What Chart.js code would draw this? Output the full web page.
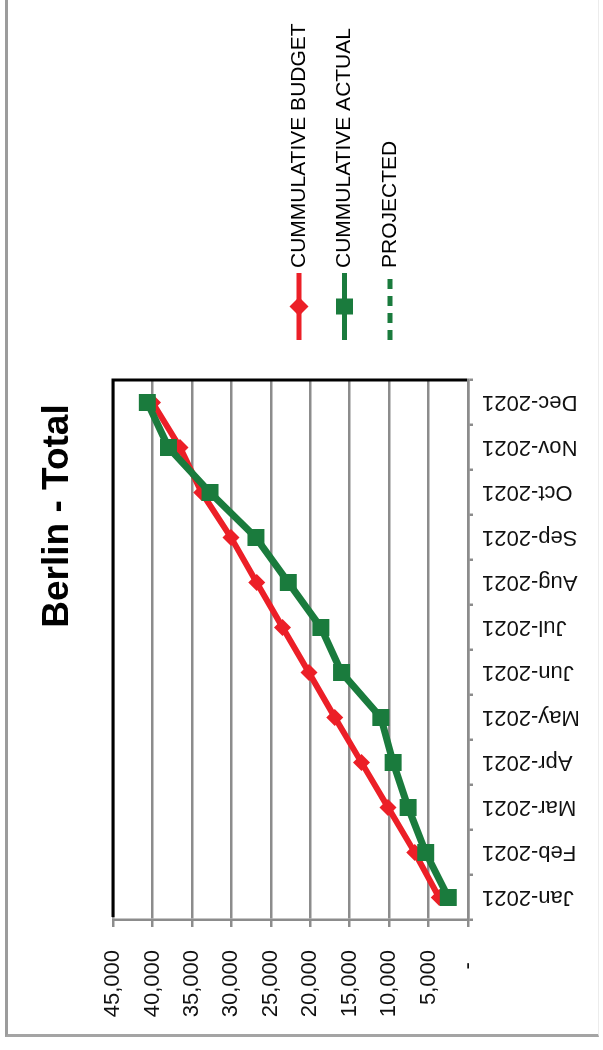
<!DOCTYPE html>
<html>
<head>
<meta charset="utf-8">
<script src="https://cdn.jsdelivr.net/npm/chart.js@4.4.0/dist/chart.umd.min.js"></script>
<style>
  html, body { margin: 0; padding: 0; background: #ffffff; overflow: hidden; }
  body { width: 603px; height: 1050px; position: relative; }
  #wrap {
    position: absolute; left: 0; top: 0;
    width: 1050px; height: 603px;
    transform-origin: 0 0;
    transform: translate(0px, 1050px) rotate(-90deg);
  }
  #frame {
    position: absolute; left: 5px; top: -4px; width: 594px; height: 1041px;
    border-left: 3px solid #9c9c9c; border-bottom: 3px solid #a4a4a4;
    border-right: 1px solid #ececec; border-top: 1px solid #f2f2f2;
    box-sizing: border-box; pointer-events: none;
  }
</style>
</head>
<body>
<div id="wrap"><canvas id="c" width="1050" height="603"></canvas></div>
<div id="frame"></div>
<script>
// ---- data ----
const chartTitle = 'Berlin - Total';
const categories = ['Jan-2021','Feb-2021','Mar-2021','Apr-2021','May-2021','Jun-2021',
                    'Jul-2021','Aug-2021','Sep-2021','Oct-2021','Nov-2021','Dec-2021'];
const seriesNames = ['CUMMULATIVE BUDGET', 'CUMMULATIVE ACTUAL', 'PROJECTED'];
const budgetValues = [3650, 6750, 10130, 13500, 16880, 20170, 23500, 26790, 30040, 33760, 36500, 40000];
const actualValues = [2500, 5360, 7590, 9490, 11050, 16030, 18650, 22780, 26880, 32700, 37970, 40650];
const projectedValues = [];
const valueMin = 0;
const valueMax = 45000;
const valueStep = 5000;

const RED = '#ec1f27';
const GREEN = '#1a7b3d';
const GRID = '#8c8c8c';
const FONT = "'Liberation Sans', Arial, sans-serif";

const decorPlugin = {
  id: 'decor',
  afterDraw(chart) {
    const ctx = chart.ctx;
    const a = chart.chartArea;
    ctx.save();
    // black plot border (top and right)
    ctx.strokeStyle = '#000';
    ctx.lineWidth = 3;
    ctx.beginPath();
    ctx.moveTo(a.left + 3, a.top);
    ctx.lineTo(a.right, a.top);
    ctx.lineTo(a.right, a.bottom - 1);
    ctx.stroke();

    // title
    ctx.fillStyle = '#000';
    ctx.font = "bold 37px " + FONT;
    ctx.textAlign = 'center';
    ctx.textBaseline = 'alphabetic';
    ctx.fillText(chartTitle, 534, 68);

    // legend
    const ds = chart.data.datasets;
    const lx0 = 710, lx1 = 777, mx = 743.5, tx = 782;
    ds.forEach((d, i) => {
      const y = 299 + i * 45.5;
      ctx.strokeStyle = d.borderColor;
      ctx.lineWidth = 5;
      ctx.setLineDash(d.borderDash || []);
      ctx.beginPath();
      ctx.moveTo(lx0, y);
      ctx.lineTo(lx1, y);
      ctx.stroke();
      ctx.setLineDash([]);
      ctx.fillStyle = d.borderColor;
      if (d.pointStyle === 'rectRot' && d.pointRadius > 0) {
        const r = 9.5;
        ctx.beginPath();
        ctx.moveTo(mx - r, y); ctx.lineTo(mx, y - r); ctx.lineTo(mx + r, y); ctx.lineTo(mx, y + r);
        ctx.closePath(); ctx.fill();
      } else if (d.pointStyle === 'rect' && d.pointRadius > 0) {
        ctx.fillRect(mx - 8, y - 8.5, 16, 17);
      }
      ctx.fillStyle = '#000';
      ctx.font = "21px " + FONT;
      ctx.textAlign = 'left';
      ctx.textBaseline = 'middle';
      ctx.fillText(d.label, tx, y);
    });
    ctx.restore();
  }
};

new Chart(document.getElementById('c'), {
  type: 'line',
  data: {
    labels: categories,
    datasets: [
      {
        label: seriesNames[0], data: budgetValues,
        borderColor: RED, backgroundColor: RED, borderWidth: 6,
        pointStyle: 'rectRot', pointRadius: 8.5, pointBorderWidth: 0,
        tension: 0, order: 1
      },
      {
        label: seriesNames[1], data: actualValues,
        borderColor: GREEN, backgroundColor: GREEN, borderWidth: 7,
        pointStyle: 'rect', pointRadius: 12, pointBorderWidth: 0,
        tension: 0, order: 0
      },
      {
        label: seriesNames[2], data: projectedValues,
        borderColor: GREEN, backgroundColor: GREEN, borderWidth: 5,
        borderDash: [10, 7], pointRadius: 0, pointStyle: 'line',
        tension: 0, order: 2
      }
    ]
  },
  options: {
    responsive: false,
    animation: false,
    devicePixelRatio: 1,
    layout: { padding: { top: 113, right: 380, left: 0, bottom: 0 } },
    plugins: { legend: { display: false }, title: { display: false }, tooltip: { enabled: false } },
    scales: {
      x: {
        type: 'category',
        offset: true,
        grid: { offset: true, drawOnChartArea: false, drawTicks: true, tickLength: 5, color: GRID, lineWidth: 2.5 },
        border: { display: true, color: GRID, width: 2.5 },
        ticks: { autoSkip: false, minRotation: 90, maxRotation: 90, padding: 9,
                 color: '#111', font: { family: FONT, size: 22 } },
        afterFit(scale) { scale.height = 135; }
      },
      y: {
        min: valueMin, max: valueMax,
        grid: { color: GRID, lineWidth: 2.5, drawTicks: true, tickLength: 7 },
        border: { display: true, color: GRID, width: 2.5 },
        ticks: {
          stepSize: valueStep, padding: 23, color: '#111',
          font: { family: FONT, size: 22 },
          callback: (v) => v === 0 ? '-  ' : Number(v).toLocaleString('en-US')
        },
        afterFit(scale) { scale.width = 130; }
      }
    }
  },
  plugins: [decorPlugin]
});
</script>
</body>
</html>
